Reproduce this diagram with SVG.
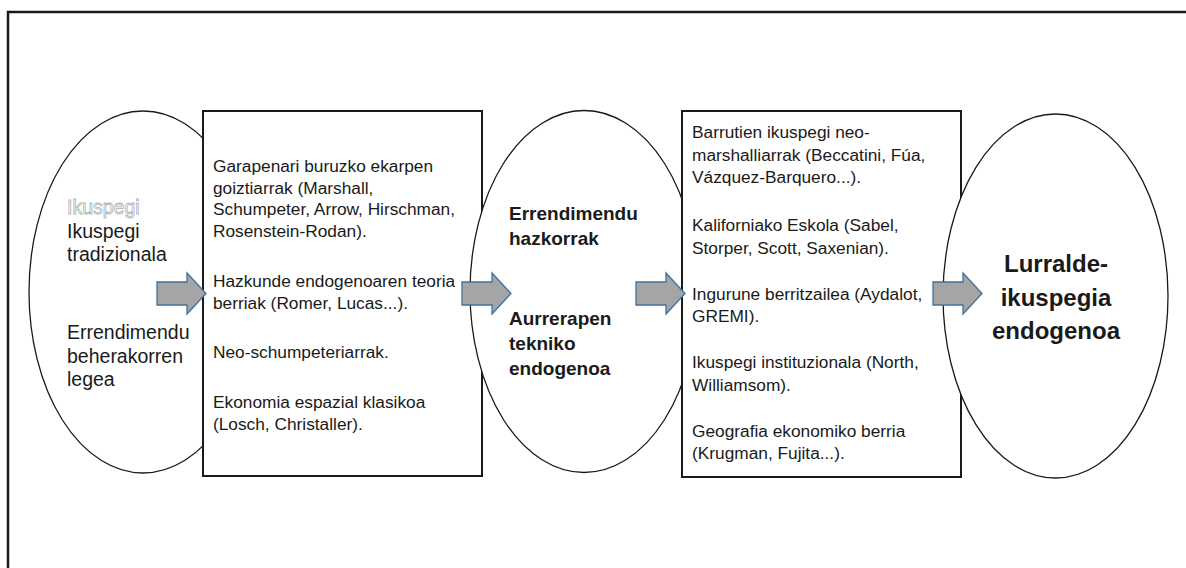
<svg xmlns="http://www.w3.org/2000/svg" width="1186" height="568" viewBox="0 0 1186 568">
  <defs>
    <style>
      .shape { fill: #ffffff; stroke: #1a1a1a; stroke-width: 1.3; }
      .box { fill: #ffffff; stroke: #1a1a1a; stroke-width: 2; }
      .t { font-family: "Liberation Sans", Arial, sans-serif; font-size: 17.3px; fill: #1a1a1a; }
      .e1 { font-family: "Liberation Sans", Arial, sans-serif; font-size: 19.5px; fill: #1a1a1a; }
      .ghost { font-family: "Liberation Sans", Arial, sans-serif; font-size: 19.5px; fill: #ffffff; stroke: #b0b0b0; stroke-width: 0.8; }
      .b2 { font-family: "Liberation Sans", Arial, sans-serif; font-size: 19px; font-weight: bold; fill: #1a1a1a; }
      .b3 { font-family: "Liberation Sans", Arial, sans-serif; font-size: 24px; font-weight: bold; fill: #1a1a1a; text-anchor: middle; }
      .arrow { fill: #a5a5a5; stroke: #41719c; stroke-width: 1.3; stroke-linejoin: miter; }
    </style>
    <path id="arrowShape" d="M0 -11.5 H30 V-20.5 L49 0 L30 20.5 V11.5 H0 Z"/>
  </defs>

  <rect x="0" y="0" width="1186" height="568" fill="#ffffff"/>
  <rect id="frame" x="8" y="12" width="1200" height="600" fill="none" stroke="#1a1a1a" stroke-width="2.5"/>

  <g id="node-traditional">
    <ellipse class="shape" cx="143" cy="292" rx="114" ry="181"/>
    <text class="ghost" x="67" y="214">Ikuspegi</text>
    <text class="e1" x="67" y="237.5">Ikuspegi</text>
    <text class="e1" x="67" y="261">tradizionala</text>
    <text class="e1" x="67" y="339">Errendimendu</text>
    <text class="e1" x="67" y="362.5">beherakorren</text>
    <text class="e1" x="67" y="386">legea</text>
  </g>

  <g id="node-box1">
    <rect class="box" x="203" y="111" width="279" height="365"/>
    <text class="t" x="213" y="172">Garapenari buruzko ekarpen</text>
    <text class="t" x="213" y="193.5">goiztiarrak (Marshall,</text>
    <text class="t" x="213" y="215">Schumpeter, Arrow, Hirschman,</text>
    <text class="t" x="213" y="237">Rosenstein-Rodan).</text>
    <text class="t" x="213" y="287">Hazkunde endogenoaren teoria</text>
    <text class="t" x="213" y="308.5">berriak (Romer, Lucas...).</text>
    <text class="t" x="213" y="358">Neo-schumpeteriarrak.</text>
    <text class="t" x="213" y="408">Ekonomia espazial klasikoa</text>
    <text class="t" x="213" y="430">(Losch, Christaller).</text>
  </g>

  <g id="node-increasing">
    <ellipse class="shape" cx="584" cy="291.5" rx="114" ry="181"/>
    <text class="b2" x="509" y="220">Errendimendu</text>
    <text class="b2" x="509" y="245">hazkorrak</text>
    <text class="b2" x="509" y="325">Aurrerapen</text>
    <text class="b2" x="509" y="350">tekniko</text>
    <text class="b2" x="509" y="375">endogenoa</text>
  </g>

  <g id="node-box2">
    <rect class="box" x="682" y="111" width="279" height="366"/>
    <text class="t" x="692" y="137.5">Barrutien ikuspegi neo-</text>
    <text class="t" x="692" y="160.5">marshalliarrak (Beccatini, Fúa,</text>
    <text class="t" x="692" y="183">Vázquez-Barquero...).</text>
    <text class="t" x="692" y="231">Kaliforniako Eskola (Sabel,</text>
    <text class="t" x="692" y="253.5">Storper, Scott, Saxenian).</text>
    <text class="t" x="692" y="299.5">Ingurune berritzailea (Aydalot,</text>
    <text class="t" x="692" y="322">GREMI).</text>
    <text class="t" x="692" y="368">Ikuspegi instituzionala (North,</text>
    <text class="t" x="692" y="390.5">Williamsom).</text>
    <text class="t" x="692" y="437">Geografia ekonomiko berria</text>
    <text class="t" x="692" y="459">(Krugman, Fujita...).</text>
  </g>

  <g id="node-endogenous">
    <ellipse class="shape" cx="1055.5" cy="296" rx="112.5" ry="182"/>
    <text class="b3" x="1056" y="272">Lurralde-</text>
    <text class="b3" x="1056" y="306">ikuspegia</text>
    <text class="b3" x="1056" y="339">endogenoa</text>
  </g>

  <g id="connectors">
    <use href="#arrowShape" class="arrow" transform="translate(157,293.5)"/>
    <use href="#arrowShape" class="arrow" transform="translate(462,293.5)"/>
    <use href="#arrowShape" class="arrow" transform="translate(636,293.5)"/>
    <use href="#arrowShape" class="arrow" transform="translate(933,293.5)"/>
  </g>
</svg>
